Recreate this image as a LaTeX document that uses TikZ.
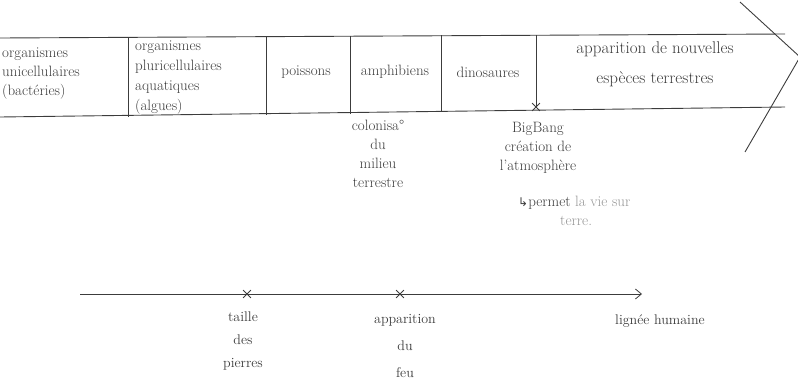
\documentclass[tikz,border=0pt]{standalone}
\usepackage{fontspec}
\newfontfamily\symfont{DejaVu Sans}
\usetikzlibrary{shapes.misc,arrows.meta}
\definecolor{ink}{RGB}{60,60,60}
\definecolor{faint}{RGB}{150,150,150}
\tikzset{
  hand/.style={text=ink, font=\fontsize{15}{19}\selectfont, inner sep=0pt},
  bandline/.style={draw=ink, line width=0.9pt},
  xmark/.style={cross out, draw=ink, line width=0.8pt, minimum size=7pt, inner sep=0pt},
}
\begin{document}
\begin{tikzpicture}[x=1pt,y=-1pt]
\useasboundingbox (0,0) rectangle (798,391);
\clip (0,0) rectangle (798,391);
% band corners
\coordinate (tl) at (0,38);
\coordinate (tr) at (785,34);
\coordinate (bl) at (0,117);
\coordinate (br) at (785,107);
\draw[bandline] (tl) -- (tr);
\draw[bandline] (bl) -- (br);
% dividers
\foreach \n/\x/\yt/\yb in {d1/128/37/117, d2/266/36/115, d3/350/36/114, d4/441/35/112, d5/536/35/107}{
  \coordinate (\n t) at (\x,\yt);
  \coordinate (\n b) at (\x,\yb);
  \draw[bandline] (\n t) -- (\n b);
}
% big arrow head
\coordinate (ah1) at (740,2);
\coordinate (ah2) at (800,57);
\coordinate (ah3) at (745,152);
\draw[bandline] (ah1) -- (ah2) -- (ah3);
% cell texts
\node[hand, align=left, anchor=west] (c1) at (2,74) {organismes\\unicellulaires\\(bactéries)};
\node[hand, align=left, anchor=north west, font=\fontsize{15}{20}\selectfont] (c2) at (135,41) {organismes\\pluricellulaires\\aquatiques\\(algues)};
\node[hand] (c3) at (306,72) {poissons};
\node[hand] (c4) at (395,72) {amphibiens};
\node[hand] (c5) at (488,72) {dinosaures};
\node[hand, align=center, font=\fontsize{17}{30}\selectfont] (c6) at (655,64) {apparition de nouvelles\\espèces terrestres};
% mark on band
\node[xmark] (bb) at (536,107) {};
% notes under band
\node[hand, align=center, anchor=north] (col) at (378,120) {colonisa°\\du\\milieu\\terrestre};
\node[hand, align=center, anchor=north] (big) at (538,122) {BigBang\\création de\\l'atmosphère};
\node[hand, align=left, anchor=north west] (vie) at (518,196) {{\symfont\fontsize{12}{19}\selectfont ↳}permet \textcolor{faint}{la vie sur}\\\hspace*{42pt}\textcolor{faint}{terre.}};
% lower timeline
\coordinate (t0) at (80,294);
\coordinate (t1) at (642,294);
\draw[draw=ink, line width=0.8pt, -{Straight Barb[length=6pt,width=10pt]}] (t0) -- (t1);
\node[xmark] (m1) at (247,294) {};
\node[xmark] (m2) at (400,294) {};
\node[hand, align=center, anchor=north, font=\fontsize{14}{23}\selectfont] (taille) at (243,312) {taille\\des\\pierres};
\node[hand, align=center, anchor=north, font=\fontsize{14}{27}\selectfont] (feu) at (405,314) {apparition\\du\\feu};
\node[hand, anchor=west, font=\fontsize{14}{23}\selectfont] (lignee) at (615,321) {lignée humaine};
\end{tikzpicture}
\end{document}
